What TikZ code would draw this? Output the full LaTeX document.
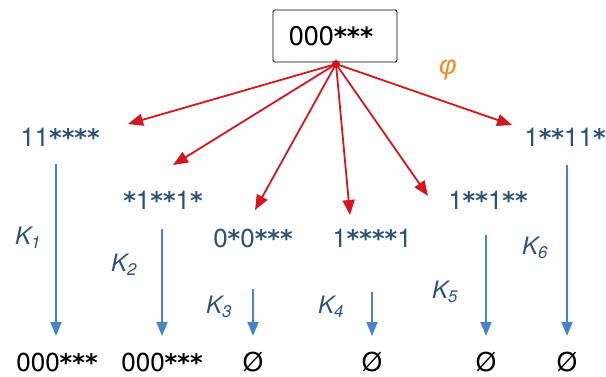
\documentclass[tikz,border=0pt]{standalone}
\usepackage{fontspec}
\setmainfont{TeX Gyre Heros}
\usetikzlibrary{arrows.meta}
\definecolor{lblue}{RGB}{45,82,118}
\definecolor{ablue}{RGB}{72,132,200}
\definecolor{ared}{RGB}{212,22,30}
\definecolor{aorange}{RGB}{242,138,40}
\newfontfamily\greekfont{Liberation Sans}
\newfontfamily\af{DejaVu Sans Bold}[Scale=0.93]
\begin{document}
\begin{tikzpicture}[x=1pt,y=-1pt,
  lbl/.style={text=lblue,font=\fontsize{26}{30}\selectfont,inner sep=0pt},
  res/.style={text=black,font=\fontsize{26}{30}\selectfont,inner sep=0pt},
  klbl/.style={text=lblue,font=\fontsize{24}{28}\selectfont\itshape,inner sep=0pt},
  redarr/.style={draw=ared,line width=1.8pt,-{Triangle[width=12pt,length=15pt]}},
  bluearr/.style={draw=ablue,line width=1.8pt,-{Triangle[width=11pt,length=14pt]}}]
\useasboundingbox (0,0) rectangle (606,377);
\node[draw=black,line width=0.8pt,rounded corners=1.5pt,minimum width=124pt,minimum height=52pt,inner sep=0pt] (top) at (335,36) {};
\node[font=\fontsize{27}{30}\selectfont,inner sep=0pt] (toptext) at (331,36) {000{\af***}};
\fill[ared] (336,64) circle (4pt);
\coordinate (src) at (336,64);
\node[text=aorange,font=\fontsize{27}{30}\selectfont\greekfont\itshape] (phi) at (448,70) {φ};
% first-level labels
\node[lbl] (a1) at (60,137) {11{\af****}};
\node[lbl] (a2) at (163,200) {{\af*}1{\af**}1{\af*}};
\node[lbl] (a3) at (253,238) {0{\af*}0{\af***}};
\node[lbl] (a4) at (372,238) {1{\af****}1};
\node[lbl] (a5) at (488,200) {1{\af**}1{\af**}};
\node[lbl] (a6) at (565,137) {1{\af**}11{\af*}};
% red arrow tips
\coordinate (t1) at (128,124);
\coordinate (t2) at (173,165);
\coordinate (t3) at (255,210);
\coordinate (t4) at (350,215);
\coordinate (t5) at (428,196);
\coordinate (t6) at (512,125);
\foreach \i in {1,...,6} \draw[redarr] (src) -- (t\i);
% bottom results
\node[res] (b1) at (57,362) {000{\af***}};
\node[res] (b2) at (162,362) {000{\af***}};
\node[res] (b3) at (253,362) {Ø};
\node[res] (b4) at (372,362) {Ø};
\node[res] (b5) at (486,362) {Ø};
\node[res] (b6) at (567,362) {Ø};
% blue arrows
\coordinate (s1) at (56,164);  \coordinate (e1) at (56,336);
\coordinate (s2) at (162,229); \coordinate (e2) at (162,336);
\coordinate (s3) at (253,289); \coordinate (e3) at (253,336);
\coordinate (s4) at (372,292); \coordinate (e4) at (372,336);
\coordinate (s5) at (486,235); \coordinate (e5) at (486,336);
\coordinate (s6) at (567,165); \coordinate (e6) at (567,336);
\foreach \i in {1,...,6} \draw[bluearr] (s\i) -- (e\i);
% K labels
\node[klbl] (k1) at (28,238) {K\textsubscript{1}};
\node[klbl] (k2) at (124,265) {K\textsubscript{2}};
\node[klbl] (k3) at (219,307) {K\textsubscript{3}};
\node[klbl] (k4) at (331,307) {K\textsubscript{4}};
\node[klbl] (k5) at (445,292) {K\textsubscript{5}};
\node[klbl] (k6) at (535,248) {K\textsubscript{6}};
\end{tikzpicture}
\end{document}
